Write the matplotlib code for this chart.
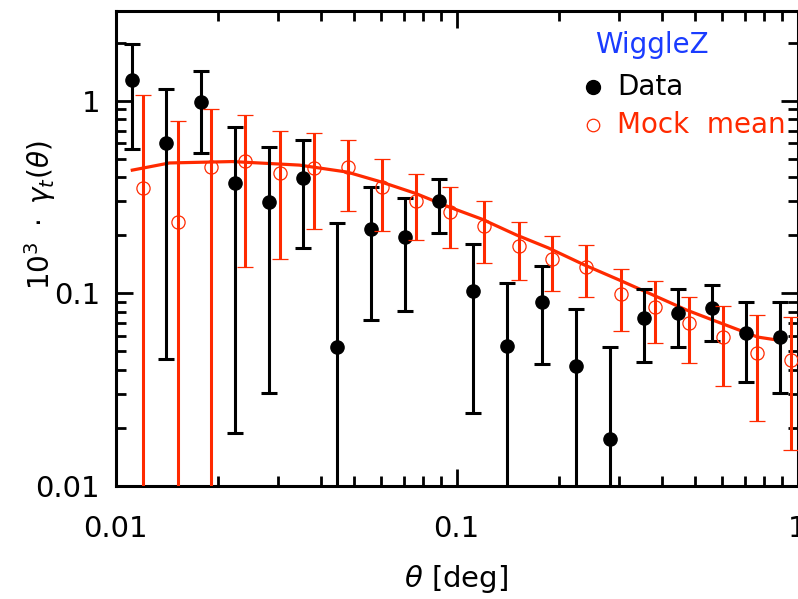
import matplotlib
matplotlib.use("Agg")
import matplotlib.pyplot as plt
import numpy as np

# ---- data ----
theta_data = [0.0112, 0.0141, 0.0178, 0.0224, 0.0282, 0.0355, 0.0447, 0.0562, 0.0708, 0.0891,
              0.112, 0.141, 0.178, 0.224, 0.282, 0.355, 0.447, 0.562, 0.708, 0.891]
gamma_data = [1.28, 0.600, 0.987, 0.372, 0.299, 0.395, 0.0528, 0.216, 0.197, 0.301,
              0.1024, 0.0536, 0.0904, 0.042, 0.0175, 0.0742, 0.0788, 0.0836, 0.0625, 0.0596]
data_hi = [1.98, 1.148, 1.43, 0.727, 0.577, 0.625, 0.232, 0.357, 0.311, 0.393,
           0.180, 0.1135, 0.1386, 0.0826, 0.0528, 0.105, 0.105, 0.1104, 0.0904, 0.0898]
data_lo = [0.561, 0.0456, 0.537, 0.0188, 0.0303, 0.171, None, 0.0727, 0.0812, 0.206,
           0.0240, None, 0.043, None, None, 0.0442, 0.0525, 0.0568, 0.0348, 0.0303]

theta_mock = [0.0120, 0.0152, 0.0191, 0.0240, 0.0303, 0.0381, 0.0480, 0.0604, 0.0760, 0.0957,
              0.120, 0.152, 0.191, 0.240, 0.303, 0.381, 0.480, 0.604, 0.760, 0.957]
gamma_mock = [0.351, 0.235, 0.454, 0.486, 0.423, 0.445, 0.454, 0.355, 0.302, 0.265,
              0.2235, 0.1764, 0.1516, 0.1374, 0.0992, 0.0852, 0.0699, 0.0596, 0.0492, 0.0451]
mock_hi = [1.065, 0.787, 0.904, 0.845, 0.695, 0.677, 0.625, 0.496, 0.416, 0.357,
           0.301, 0.235, 0.198, 0.178, 0.1337, 0.1158, 0.0953, 0.0862, 0.0772, 0.075]
mock_lo = [None, None, None, 0.1374, 0.1507, 0.217, 0.267, 0.211, 0.189, 0.1725,
           0.143, 0.1173, 0.1032, 0.0953, 0.0638, 0.055, 0.0436, 0.033, 0.0217, 0.01538]

theta_model = [0.0112, 0.0144, 0.0220, 0.0346, 0.0478, 0.060, 0.0759, 0.0949, 0.1185, 0.150,
               0.186, 0.238, 0.300, 0.377, 0.473, 0.595, 0.764, 0.874]
gamma_model = [0.436, 0.475, 0.483, 0.463, 0.426, 0.379, 0.330, 0.281, 0.243, 0.2007,
               0.172, 0.140, 0.1173, 0.098, 0.0819, 0.0701, 0.0593, 0.0572]

xticks = [0.01, 0.1, 1]
xticklabels = ["0.01", "0.1", "1"]
yticks = [0.01, 0.1, 1]
yticklabels = ["0.01", "0.1", "1"]

RED = "#ff2a00"
BLUE = "#1a3cff"
FLOOR = 1e-4
plt.rcParams["font.family"] = ["DejaVu Sans"]
plt.rcParams["mathtext.fontset"] = "dejavusans"

def bounds(vals, lo, hi):
    lo_ = [FLOOR if l is None else l for l in lo]
    return [np.array(vals) - np.array(lo_), np.array(hi) - np.array(vals)]

W, H = 798, 599
fig = plt.figure(figsize=(W / 100, H / 100), dpi=100)
ax = fig.add_axes([115.5 / W, 1 - 486 / H, (797.5 - 115.5) / W, (486 - 11) / H])
ax.set_xscale("log")
ax.set_yscale("log")

ax.plot(theta_model, gamma_model, color=RED, lw=2.3, zorder=2)
ax.errorbar(theta_data, gamma_data, yerr=bounds(gamma_data, data_lo, data_hi),
            fmt="o", color="black", ms=9.5, elinewidth=2.2, capsize=6, capthick=2.2, zorder=3)
ax.errorbar(theta_mock, gamma_mock, yerr=bounds(gamma_mock, mock_lo, mock_hi),
            fmt="o", color=RED, mfc="none", mec=RED, mew=0.9, ms=9.5,
            elinewidth=2.2, capsize=6, capthick=2.2, zorder=4)

ax.set_xlim(0.01, 1)
ax.set_ylim(0.01, 2.92)
ax.set_xticks(xticks)
ax.set_xticklabels(xticklabels)
ax.set_yticks(yticks)
ax.set_yticklabels(yticklabels)
ax.tick_params(which="both", direction="in", top=True, right=True, width=2, labelsize=21)
ax.tick_params(which="major", length=12)
ax.tick_params(which="minor", length=7)
ax.tick_params(axis="x", which="major", pad=21)
ax.tick_params(axis="y", which="major", pad=11)
for s in ax.spines.values():
    s.set_linewidth(2.2)

ax.set_xlabel(r"$\theta$ [deg]", fontsize=21, labelpad=14)
fig.text(40 / W, 1 - 215 / H, r"$10^3\ \cdot\ \gamma_t(\theta)$", fontsize=20,
         rotation=90, ha="center", va="center")

# legend-like annotation
fig.text(595 / W, 1 - 45 / H, "WiggleZ", color=BLUE, fontsize=20, va="center", ha="left")
fig.text(617 / W, 1 - 87 / H, "Data", color="black", fontsize=20, va="center", ha="left")
fig.text(617 / W, 1 - 125 / H, "Mock  mean", color=RED, fontsize=20, va="center", ha="left")
fig.lines.append(plt.Line2D([593 / W], [1 - 87 / H], marker="o", ms=10, color="black",
                            transform=fig.transFigure, figure=fig))
fig.lines.append(plt.Line2D([593 / W], [1 - 125 / H], marker="o", ms=9, mfc="none", mec=RED,
                            mew=0.9, transform=fig.transFigure, figure=fig))

fig.savefig("out.png", dpi=100)
